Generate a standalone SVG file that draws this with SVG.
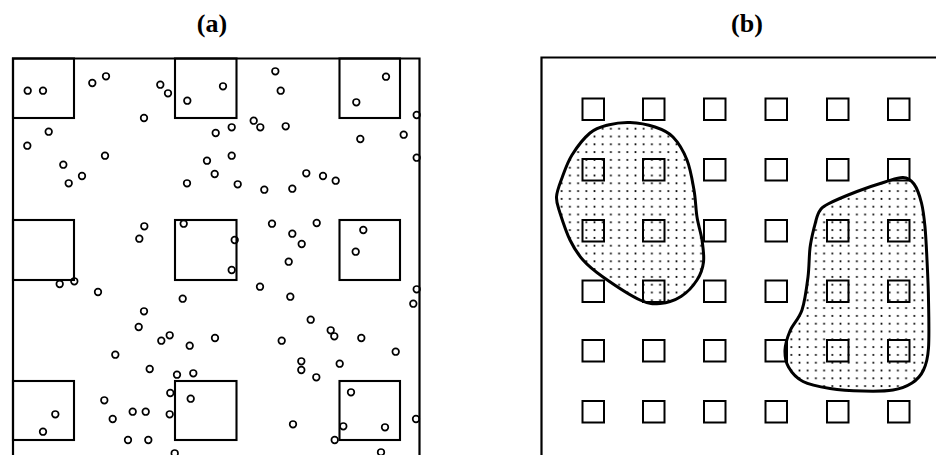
<svg xmlns="http://www.w3.org/2000/svg" width="936" height="455" viewBox="0 0 936 455">
<style>
.lbl{font-family:"Liberation Serif","Times New Roman",serif;font-weight:bold;font-size:26px;fill:#000;text-anchor:middle}
.frame{fill:none;stroke:#000;stroke-width:2.2}
.sq{fill:none;stroke:#000;stroke-width:2.1}
.pt{fill:none;stroke:#000;stroke-width:1.7}
.ssq{fill:none;stroke:#000;stroke-width:2}
.blob{fill:url(#stip);stroke:#000;stroke-width:3;stroke-linejoin:round}
</style>
<defs>
<pattern id="stip" patternUnits="userSpaceOnUse" x="0" y="0" width="8.2" height="7.8">
<circle cx="4.1" cy="3.9" r="1.05" fill="#000"/>
</pattern>
</defs>
<rect width="936" height="455" fill="#fff"/>
<text class="lbl" x="212" y="32">(a)</text>
<text class="lbl" x="747" y="32">(b)</text>

<g id="panel-a">
<path class="frame" d="M13,460 V58.5 H419.5 V460"/>
<g id="a-squares">
<rect class="sq" x="13" y="58.5" width="61" height="59.5"/>
<rect class="sq" x="175" y="58.5" width="61.5" height="59.5"/>
<rect class="sq" x="339.5" y="58.5" width="60.5" height="59.5"/>
<rect class="sq" x="13" y="220" width="61" height="60"/>
<rect class="sq" x="175" y="220" width="61.5" height="60"/>
<rect class="sq" x="339.5" y="220" width="60.5" height="60"/>
<rect class="sq" x="13" y="381" width="61" height="59"/>
<rect class="sq" x="175" y="381" width="61.5" height="59"/>
<rect class="sq" x="339.5" y="381" width="60.5" height="59"/>
</g>
<g id="a-points">
<circle class="pt" cx="27.7" cy="90.7" r="3.3"/>
<circle class="pt" cx="43" cy="90.7" r="3.3"/>
<circle class="pt" cx="92.3" cy="83" r="3.3"/>
<circle class="pt" cx="106" cy="76.3" r="3.3"/>
<circle class="pt" cx="160.3" cy="84.7" r="3.3"/>
<circle class="pt" cx="168" cy="93.3" r="3.3"/>
<circle class="pt" cx="187.3" cy="100.7" r="3.3"/>
<circle class="pt" cx="223" cy="86.3" r="3.3"/>
<circle class="pt" cx="144" cy="118" r="3.3"/>
<circle class="pt" cx="48.7" cy="131.7" r="3.3"/>
<circle class="pt" cx="27.3" cy="145.7" r="3.3"/>
<circle class="pt" cx="215.7" cy="133" r="3.3"/>
<circle class="pt" cx="105" cy="155.7" r="3.3"/>
<circle class="pt" cx="63.3" cy="164.7" r="3.3"/>
<circle class="pt" cx="82" cy="176" r="3.3"/>
<circle class="pt" cx="68.7" cy="183.3" r="3.3"/>
<circle class="pt" cx="207" cy="160.7" r="3.3"/>
<circle class="pt" cx="214.7" cy="174" r="3.3"/>
<circle class="pt" cx="187" cy="183.3" r="3.3"/>
<circle class="pt" cx="144.3" cy="226.3" r="3.3"/>
<circle class="pt" cx="139.3" cy="238.7" r="3.3"/>
<circle class="pt" cx="183.7" cy="223.7" r="3.3"/>
<circle class="pt" cx="275.3" cy="71.3" r="3.3"/>
<circle class="pt" cx="280.7" cy="90.7" r="3.3"/>
<circle class="pt" cx="386" cy="76.7" r="3.3"/>
<circle class="pt" cx="356.3" cy="102.3" r="3.3"/>
<circle class="pt" cx="253.7" cy="120.7" r="3.3"/>
<circle class="pt" cx="260.3" cy="127.3" r="3.3"/>
<circle class="pt" cx="231.7" cy="127.3" r="3.3"/>
<circle class="pt" cx="285.7" cy="126.3" r="3.3"/>
<circle class="pt" cx="416.7" cy="115" r="3.3"/>
<circle class="pt" cx="403.7" cy="134.7" r="3.3"/>
<circle class="pt" cx="360.3" cy="139" r="3.3"/>
<circle class="pt" cx="416.7" cy="157.7" r="3.3"/>
<circle class="pt" cx="231.7" cy="155.7" r="3.3"/>
<circle class="pt" cx="306.3" cy="173.3" r="3.3"/>
<circle class="pt" cx="323" cy="176" r="3.3"/>
<circle class="pt" cx="335.7" cy="180.7" r="3.3"/>
<circle class="pt" cx="237.7" cy="184.3" r="3.3"/>
<circle class="pt" cx="264.3" cy="189.7" r="3.3"/>
<circle class="pt" cx="292.3" cy="188.7" r="3.3"/>
<circle class="pt" cx="272" cy="223.7" r="3.3"/>
<circle class="pt" cx="316.7" cy="223" r="3.3"/>
<circle class="pt" cx="292.3" cy="233.7" r="3.3"/>
<circle class="pt" cx="301.7" cy="244" r="3.3"/>
<circle class="pt" cx="363.3" cy="230" r="3.3"/>
<circle class="pt" cx="355.7" cy="251.7" r="3.3"/>
<circle class="pt" cx="234.7" cy="240" r="3.3"/>
<circle class="pt" cx="231.7" cy="270" r="3.3"/>
<circle class="pt" cx="59.7" cy="284" r="3.3"/>
<circle class="pt" cx="74.3" cy="281.3" r="3.3"/>
<circle class="pt" cx="98" cy="292" r="3.3"/>
<circle class="pt" cx="182.7" cy="298.7" r="3.3"/>
<circle class="pt" cx="144" cy="311.3" r="3.3"/>
<circle class="pt" cx="138.7" cy="327" r="3.3"/>
<circle class="pt" cx="161.3" cy="340.7" r="3.3"/>
<circle class="pt" cx="169.7" cy="335.3" r="3.3"/>
<circle class="pt" cx="189.7" cy="345.7" r="3.3"/>
<circle class="pt" cx="215" cy="338" r="3.3"/>
<circle class="pt" cx="115.3" cy="354.7" r="3.3"/>
<circle class="pt" cx="149.7" cy="369" r="3.3"/>
<circle class="pt" cx="177" cy="374.7" r="3.3"/>
<circle class="pt" cx="193.3" cy="373.3" r="3.3"/>
<circle class="pt" cx="170.3" cy="393" r="3.3"/>
<circle class="pt" cx="190.7" cy="398.7" r="3.3"/>
<circle class="pt" cx="104.3" cy="400.3" r="3.3"/>
<circle class="pt" cx="55.3" cy="414.3" r="3.3"/>
<circle class="pt" cx="43" cy="431.7" r="3.3"/>
<circle class="pt" cx="112.7" cy="419" r="3.3"/>
<circle class="pt" cx="132.7" cy="411.7" r="3.3"/>
<circle class="pt" cx="145.7" cy="411.7" r="3.3"/>
<circle class="pt" cx="169.7" cy="414.3" r="3.3"/>
<circle class="pt" cx="128" cy="440" r="3.3"/>
<circle class="pt" cx="148.3" cy="440" r="3.3"/>
<circle class="pt" cx="174.7" cy="453.3" r="3.3"/>
<circle class="pt" cx="288.7" cy="261.7" r="3.3"/>
<circle class="pt" cx="260" cy="286.7" r="3.3"/>
<circle class="pt" cx="290.3" cy="296.7" r="3.3"/>
<circle class="pt" cx="416.7" cy="289.3" r="3.3"/>
<circle class="pt" cx="413.3" cy="303.7" r="3.3"/>
<circle class="pt" cx="310.7" cy="319.7" r="3.3"/>
<circle class="pt" cx="330.7" cy="330.3" r="3.3"/>
<circle class="pt" cx="334.3" cy="336.3" r="3.3"/>
<circle class="pt" cx="361.3" cy="338" r="3.3"/>
<circle class="pt" cx="281.7" cy="340.7" r="3.3"/>
<circle class="pt" cx="395.7" cy="351.7" r="3.3"/>
<circle class="pt" cx="301.3" cy="361.3" r="3.3"/>
<circle class="pt" cx="301.3" cy="370" r="3.3"/>
<circle class="pt" cx="339.7" cy="363.7" r="3.3"/>
<circle class="pt" cx="316.3" cy="377.3" r="3.3"/>
<circle class="pt" cx="351" cy="392.3" r="3.3"/>
<circle class="pt" cx="293" cy="424.3" r="3.3"/>
<circle class="pt" cx="343.3" cy="426.3" r="3.3"/>
<circle class="pt" cx="385" cy="427.3" r="3.3"/>
<circle class="pt" cx="416" cy="419" r="3.3"/>
<circle class="pt" cx="334.7" cy="440" r="3.3"/>
<circle class="pt" cx="381" cy="452.3" r="3.3"/>
</g>
</g>

<g id="panel-b">
<path class="frame" d="M541.5,460 V57.5 H940"/>
<g id="region-1">
<path class="blob" d="M630,122.5 C637.8,122.8 647.8,124.6 655,127 C662.2,129.4 667.7,131.5 673,137 C678.3,142.5 683.5,151.2 687,160 C690.5,168.8 692.3,180.5 694,190 C695.7,199.5 695.7,208.7 697,217 C698.3,225.3 700.9,232.5 702,240 C703.1,247.5 704.3,255.3 703.5,262 C702.7,268.7 700.8,274.3 697,280 C693.3,285.8 687.2,292.6 681,296.5 C674.8,300.4 666.8,302.9 660,303.5 C653.2,304.1 649.5,304.4 640,300 C630.5,295.6 612.5,283.7 603,277 C593.5,270.3 588.5,266.2 583,260 C577.5,253.8 573.8,247.8 570,240 C566.2,232.2 562.3,220.2 560,213 C557.8,205.8 556.2,202.8 556.5,197 C556.8,191.2 559.4,185 562,178 C564.6,171 567.3,162.5 572,155 C576.7,147.5 584,138 590,133 C596,128 601.3,126.8 608,125 C614.7,123.3 622.2,122.2 630,122.5 Z"/>
</g>
<g id="region-2">
<path class="blob" d="M903,177.5 C907.8,177.8 910.9,179.8 914,184 C917.1,188.3 919.7,195.8 921.5,203 C923.3,210.2 924.1,217.5 925,227 C925.9,236.5 926.4,247.8 927,260 C927.6,272.2 928.3,285.3 928.5,300 C928.8,314.7 929.3,336.3 928.5,348 C927.7,359.7 926.3,364.2 923.5,370 C920.8,375.8 917.1,379.7 912,383 C906.9,386.3 901.2,388.7 893,390 C884.8,391.3 873.5,391.3 863,391 C852.5,390.8 840,390.1 830,388.5 C820,386.9 809.9,385.1 803,381.5 C796.1,377.9 791.5,372.3 788.5,367 C785.5,361.8 784.8,356 785,350 C785.3,344 787.2,337.7 790,331 C792.8,324.3 799,319 802,310 C805,301 806.7,287.3 808,277 C809.3,266.7 809,256.2 810,248 C811,239.8 812.5,234 814,228 C815.5,222.7 816.7,216 819,212 C821.3,208 821.7,207.4 828,204 C834.3,200.6 847.5,195.2 857,191.5 C866.5,187.8 877.3,184.3 885,182 C892.7,179.7 898.2,177.2 903,177.5 Z"/>
</g>
<g id="b-sites">
<rect class="ssq" x="582.5" y="98.5" width="21.5" height="21.5"/>
<rect class="ssq" x="643" y="98.5" width="21.5" height="21.5"/>
<rect class="ssq" x="704" y="98.5" width="21.5" height="21.5"/>
<rect class="ssq" x="765.5" y="98.5" width="21.5" height="21.5"/>
<rect class="ssq" x="827" y="98.5" width="21.5" height="21.5"/>
<rect class="ssq" x="888" y="98.5" width="21.5" height="21.5"/>
<rect class="ssq" x="582.5" y="159" width="21.5" height="21.5"/>
<rect class="ssq" x="643" y="159" width="21.5" height="21.5"/>
<rect class="ssq" x="704" y="159" width="21.5" height="21.5"/>
<rect class="ssq" x="765.5" y="159" width="21.5" height="21.5"/>
<rect class="ssq" x="827" y="159" width="21.5" height="21.5"/>
<rect class="ssq" x="888" y="159" width="21.5" height="21.5"/>
<rect class="ssq" x="582.5" y="220" width="21.5" height="21.5"/>
<rect class="ssq" x="643" y="220" width="21.5" height="21.5"/>
<rect class="ssq" x="704" y="220" width="21.5" height="21.5"/>
<rect class="ssq" x="765.5" y="220" width="21.5" height="21.5"/>
<rect class="ssq" x="827" y="220" width="21.5" height="21.5"/>
<rect class="ssq" x="888" y="220" width="21.5" height="21.5"/>
<rect class="ssq" x="582.5" y="280.5" width="21.5" height="21.5"/>
<rect class="ssq" x="643" y="280.5" width="21.5" height="21.5"/>
<rect class="ssq" x="704" y="280.5" width="21.5" height="21.5"/>
<rect class="ssq" x="765.5" y="280.5" width="21.5" height="21.5"/>
<rect class="ssq" x="827" y="280.5" width="21.5" height="21.5"/>
<rect class="ssq" x="888" y="280.5" width="21.5" height="21.5"/>
<rect class="ssq" x="582.5" y="340" width="21.5" height="21.5"/>
<rect class="ssq" x="643" y="340" width="21.5" height="21.5"/>
<rect class="ssq" x="704" y="340" width="21.5" height="21.5"/>
<rect class="ssq" x="765.5" y="340" width="21.5" height="21.5"/>
<rect class="ssq" x="827" y="340" width="21.5" height="21.5"/>
<rect class="ssq" x="888" y="340" width="21.5" height="21.5"/>
<rect class="ssq" x="582.5" y="401" width="21.5" height="21.5"/>
<rect class="ssq" x="643" y="401" width="21.5" height="21.5"/>
<rect class="ssq" x="704" y="401" width="21.5" height="21.5"/>
<rect class="ssq" x="765.5" y="401" width="21.5" height="21.5"/>
<rect class="ssq" x="827" y="401" width="21.5" height="21.5"/>
<rect class="ssq" x="888" y="401" width="21.5" height="21.5"/>
</g>
</g>
</svg>
